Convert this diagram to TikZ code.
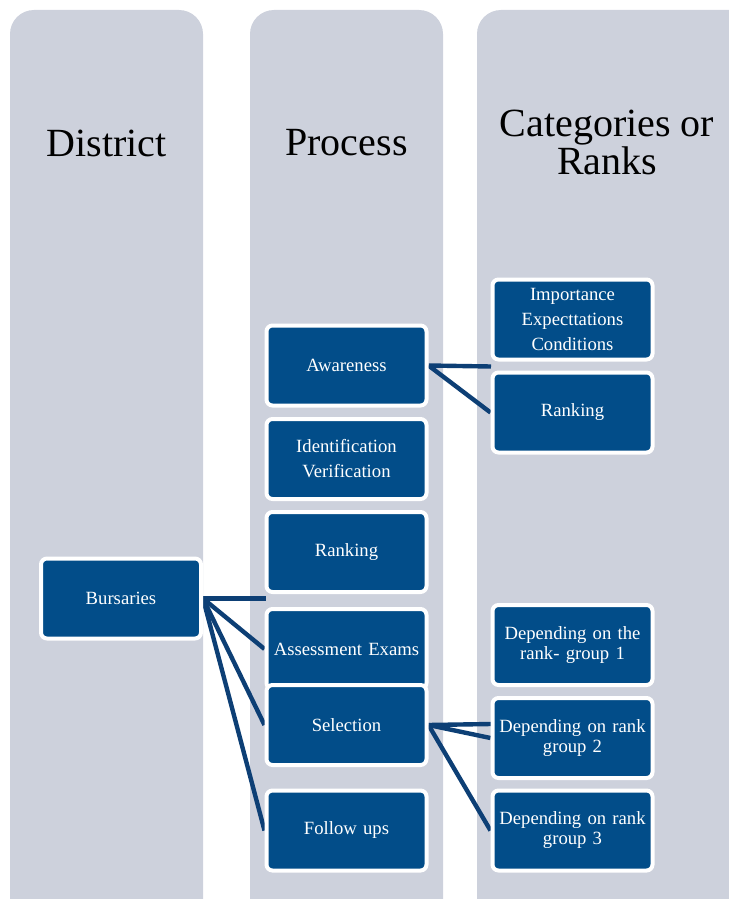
\documentclass[tikz,border=0pt]{standalone}
\usepackage{fontspec}
\setmainfont{Liberation Serif}
\definecolor{colbg}{HTML}{CDD1DC}
\definecolor{boxblue}{HTML}{024D89}
\definecolor{linkblue}{HTML}{0D3F75}
\pgfdeclarelayer{back}
\pgfdeclarelayer{mid}
\pgfsetlayers{back,mid,main}
\tikzset{
  column/.style={fill=colbg, rounded corners=18pt},
  header/.style={font=\fontsize{30}{28.5}\selectfont, align=center, text=black},
  stepbox/.style={draw=white, line width=3pt, fill=boxblue, rounded corners=4.5pt,
    minimum width=120pt, minimum height=60pt, text width=118pt, align=center,
    inner sep=0pt, text=white, font=\fontsize{14}{18.75}\selectfont},
  tightbox/.style={stepbox, font=\fontsize{14}{15}\selectfont},
  link/.style={draw=linkblue, line width=3.3pt},
}
\begin{document}
\begin{tikzpicture}[x=0.75pt, y=-0.75pt]
\useasboundingbox (0,0) rectangle (728,899);
\clip (0,0) rectangle (728,899);
% nodes
\node[stepbox] (bur) at (121,598.5) {Bursaries};
\node[stepbox] (awa) at (346.5,365.5) {Awareness};
\node[stepbox] (idv) at (346.5,459) {Identification\\Verification};
\node[stepbox] (prk) at (346.5,552) {Ranking};
\node[stepbox] (ass) at (346.5,649) {Assessment Exams};
\node[stepbox] (sel) at (346.5,725) {Selection};
\node[stepbox] (fol) at (346.5,830.5) {Follow ups};
\node[stepbox] (iec) at (572.5,319.5) {Importance\\Expecttations\\Conditions};
\node[stepbox] (crk) at (572.5,412.5) {Ranking};
\node[tightbox] (g1) at (572.5,645) {Depending on the\\rank- group 1};
\node[tightbox] (g2) at (572.5,738) {Depending on rank\\group 2};
\node[tightbox] (g3) at (572.5,830.5) {Depending on rank\\group 3};
\coordinate (bfree) at (266,598.5);
\coordinate (afree) at (491,366.5);
\coordinate (sfree) at (491,724);
% columns and headers
\begin{pgfonlayer}{back}
  \fill[column] (10,10) rectangle (203,930);
  \fill[column] (250,10) rectangle (443,930);
  \fill[column] (477,10) rectangle (760,930);
\end{pgfonlayer}
\node[header] (hd) at (106.5,143) {District};
\node[header] (hp) at (346.5,143) {Process};
\node[header] (hc) at (607,142) {Categories or\\Ranks};
% connectors
\begin{pgfonlayer}{mid}
  \draw[link] (bur.east) -- (bfree);
  \draw[link] (bur.east) -- (ass.west);
  \draw[link] (bur.east) -- (sel.west);
  \draw[link] (bur.east) -- (fol.west);
  \draw[link] (awa.east) -- (afree);
  \draw[link] (awa.east) -- (crk.west);
  \draw[link] (sel.east) -- (sfree);
  \draw[link] (sel.east) -- (g2.west);
  \draw[link] (sel.east) -- (g3.west);
\end{pgfonlayer}
\end{tikzpicture}
\end{document}
